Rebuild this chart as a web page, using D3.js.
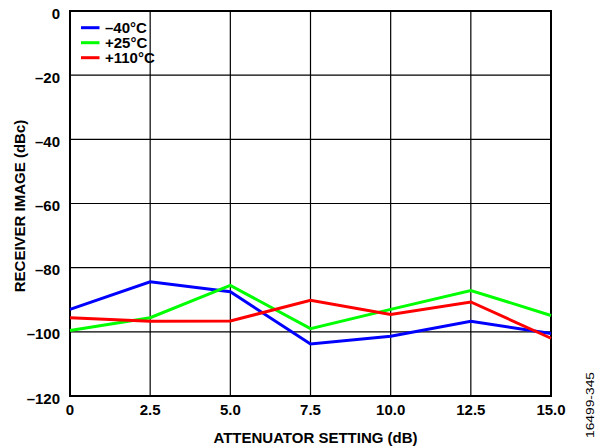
<!DOCTYPE html>
<html>
<head>
<meta charset="utf-8">
<script src="https://cdn.jsdelivr.net/npm/d3@7"></script>
<style>
  body { margin: 0; background: #fff; }
  text { font-family: "Liberation Sans", Arial, sans-serif; }
</style>
</head>
<body>
<script>
// data
var attenuation = [0, 2.5, 5.0, 7.5, 10.0, 12.5, 15.0];
var coldImage = [-93, -84.4, -87.5, -103.8, -101.4, -96.7, -100.5];
var roomImage = [-99.6, -95.6, -85.5, -99, -93, -87.1, -94.9];
var hotImage = [-95.6, -96.7, -96.6, -90.2, -94.6, -90.7, -102];
var seriesNames = ["\u201340\u00b0C", "+25\u00b0C", "+110\u00b0C"];
var seriesColors = ["#0000ff", "#00ff00", "#ff0000"];
var xTicks = [0, 2.5, 5.0, 7.5, 10.0, 12.5, 15.0];
var yTicks = [0, -20, -40, -60, -80, -100, -120];

var w = 598;
var h = 446;
// plot box (window.top is reserved, so prefixed names)
var plotLeft = 70, plotRight = 551, plotTop = 11, plotBottom = 396;

var svg = d3.select("body").append("svg")
  .attr("width", w)
  .attr("height", h);

var xScale = d3.scaleLinear().domain([0, 15]).range([plotLeft, plotRight]);
var yScale = d3.scaleLinear().domain([-120, 0]).range([plotBottom, plotTop]);

// grid
svg.selectAll(".vgrid")
  .data(xTicks)
  .enter().append("line")
  .attr("x1", function(d) { return xScale(d); })
  .attr("x2", function(d) { return xScale(d); })
  .attr("y1", plotTop)
  .attr("y2", plotBottom)
  .attr("stroke", "#000")
  .attr("stroke-width", 1.2);

svg.selectAll(".hgrid")
  .data(yTicks)
  .enter().append("line")
  .attr("x1", plotLeft)
  .attr("x2", plotRight)
  .attr("y1", function(d) { return yScale(d); })
  .attr("y2", function(d) { return yScale(d); })
  .attr("stroke", "#000")
  .attr("stroke-width", 1.2);

// frame
svg.append("rect")
  .attr("x", plotLeft)
  .attr("y", plotTop)
  .attr("width", plotRight - plotLeft)
  .attr("height", plotBottom - plotTop)
  .attr("fill", "none")
  .attr("stroke", "#000")
  .attr("stroke-width", 2);

// lines
var allSeries = [coldImage, roomImage, hotImage];
var line = d3.line()
  .x(function(d, i) { return xScale(attenuation[i]); })
  .y(function(d) { return yScale(d); });

svg.selectAll(".series")
  .data(allSeries)
  .enter().append("path")
  .attr("d", line)
  .attr("fill", "none")
  .attr("stroke", function(d, i) { return seriesColors[i]; })
  .attr("stroke-width", 3)
  .attr("stroke-linejoin", "miter");

// tick labels
svg.selectAll(".xlab")
  .data(xTicks)
  .enter().append("text")
  .attr("x", function(d) { return xScale(d); })
  .attr("y", 414.5)
  .attr("text-anchor", "middle")
  .attr("font-size", 15)
  .attr("font-weight", "bold")
  .text(function(d) { return d === 0 ? "0" : d.toFixed(1); });

svg.selectAll(".ylab")
  .data(yTicks)
  .enter().append("text")
  .attr("x", 60)
  .attr("y", function(d) { return yScale(d) + 7.5; })
  .attr("text-anchor", "end")
  .attr("font-size", 15)
  .attr("font-weight", "bold")
  .text(function(d) { return d === 0 ? "0" : "\u2013" + Math.abs(d); });

// axis titles
svg.append("text")
  .attr("x", 315.5)
  .attr("y", 443)
  .attr("text-anchor", "middle")
  .attr("font-size", 15)
  .attr("font-weight", "bold")
  .text("ATTENUATOR SETTING (dB)");

svg.append("text")
  .attr("transform", "translate(24.5,206) rotate(-90)")
  .attr("text-anchor", "middle")
  .attr("font-size", 15)
  .attr("font-weight", "bold")
  .text("RECEIVER IMAGE (dBc)");

svg.append("text")
  .attr("transform", "translate(594,405) rotate(-90)")
  .attr("text-anchor", "middle")
  .attr("font-size", 11)
  .attr("textLength", 66)
  .attr("lengthAdjust", "spacingAndGlyphs")
  .text("16499-345");

// legend
var legenda = svg.selectAll(".legenda")
  .data(seriesNames)
  .enter().append("g")
  .attr("transform", function(d, i) { return "translate(0," + (i * 15) + ")"; });

legenda.append("line")
  .attr("x1", 81)
  .attr("x2", 99.5)
  .attr("y1", 27.7)
  .attr("y2", 27.7)
  .attr("stroke", function(d, i) { return seriesColors[i]; })
  .attr("stroke-width", 3);

legenda.append("text")
  .attr("x", 105)
  .attr("y", 32.7)
  .attr("font-size", 15)
  .attr("font-weight", "bold")
  .text(function(d) { return d; });
</script>
</body>
</html>
